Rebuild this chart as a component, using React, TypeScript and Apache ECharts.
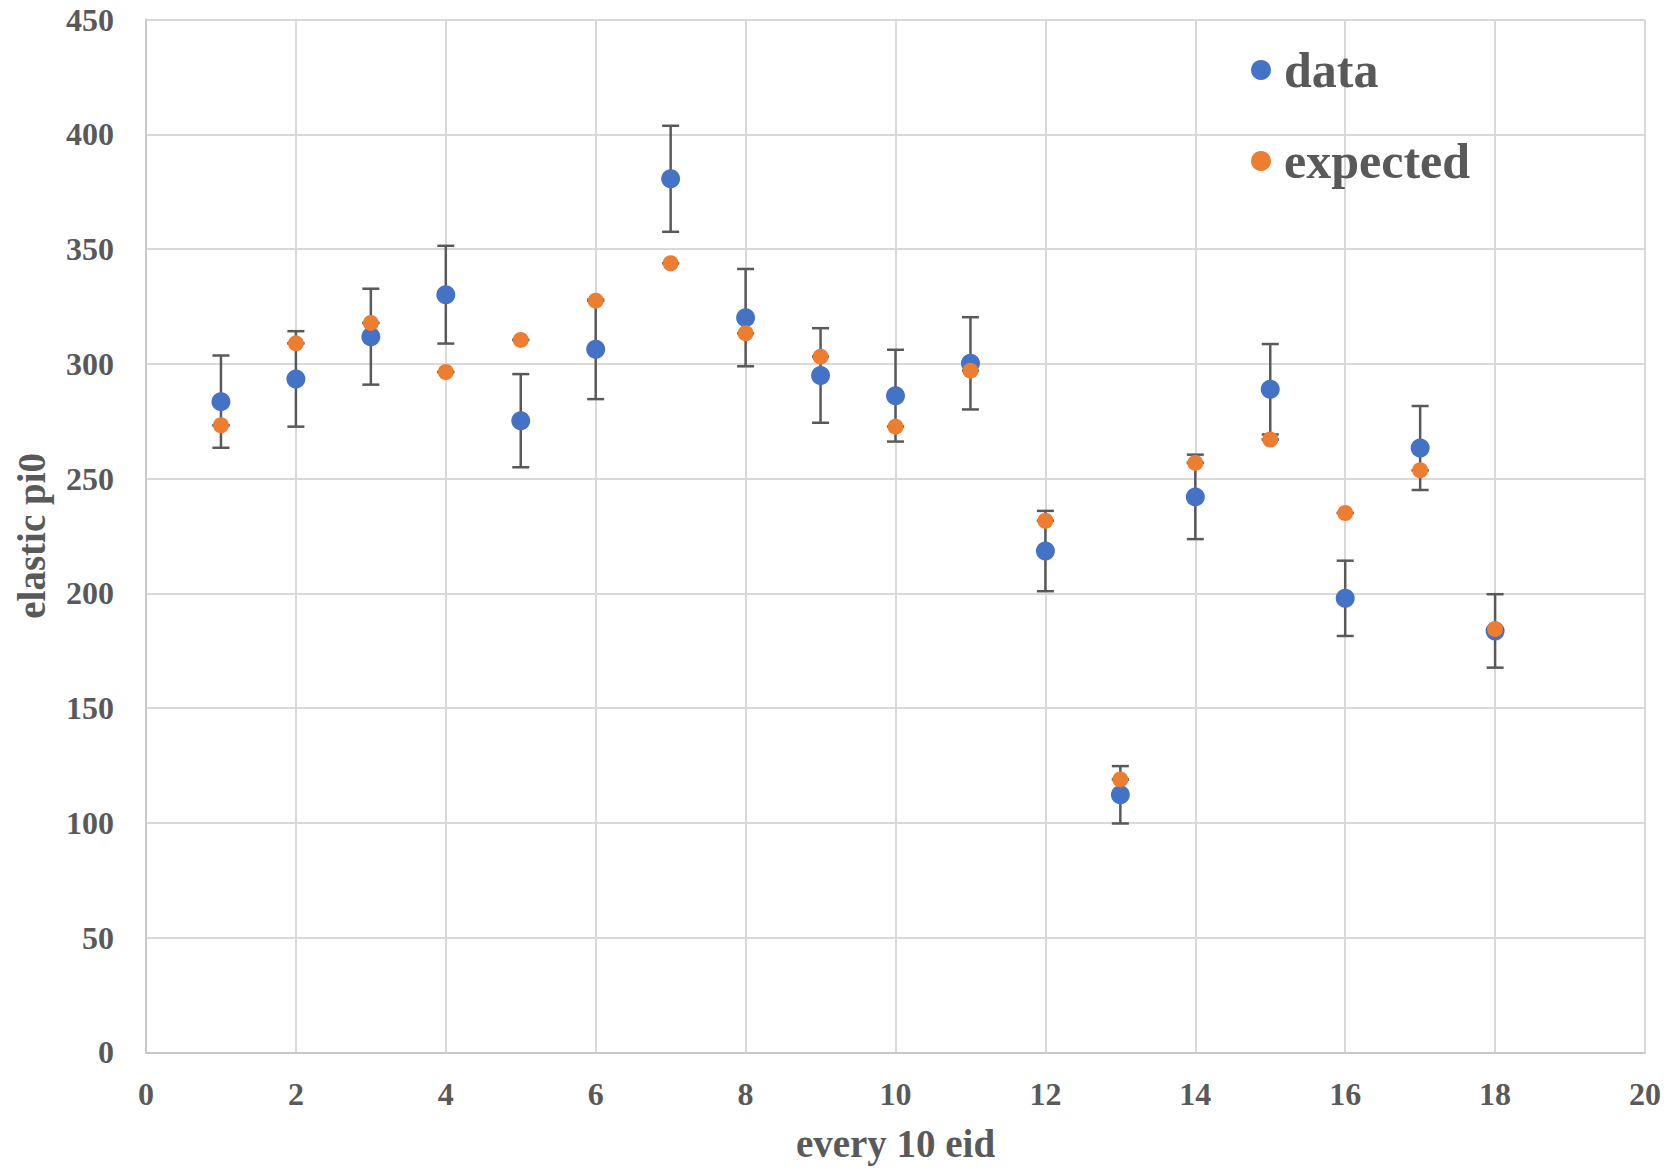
import React, { useEffect, useRef } from "react";
import * as echarts from "echarts";

const eids = [1, 2, 3, 4, 5, 6, 7, 8, 9, 10, 11, 12, 13, 14, 15, 16, 17, 18];
const dataValues = [283.5, 293.4, 311.8, 330.1, 275.2, 306.3, 380.6, 320.1, 294.9, 286.1, 300.2, 218.4, 112.2, 242.0, 288.9, 197.8, 263.3, 183.6];
const dataErrors = [20.1, 20.8, 20.9, 21.3, 20.3, 21.7, 23.1, 21.2, 20.6, 20.0, 20.1, 17.5, 12.5, 18.4, 19.7, 16.4, 18.3, 16.0];
const expectedValues = [273.2, 308.9, 317.8, 296.4, 310.4, 327.5, 343.8, 313.3, 303.1, 272.6, 297.0, 231.6, 118.9, 256.8, 267.0, 235.0, 253.6, 184.4];

const FONT = "'Liberation Serif', 'Times New Roman', serif";
const TEXT_COLOR = "#595959";
const ERR_COLOR = "#595959";

function errRender(params: any, api: any) {
  const x = api.value(0);
  const lo = api.value(1);
  const hi = api.value(2);
  const pHi = api.coord([x, hi]);
  const pLo = api.coord([x, lo]);
  const hw = 8.5;
  const style = { stroke: ERR_COLOR, lineWidth: 2.5 };
  const children: any[] = [];
  if (Math.abs(pHi[1] - pLo[1]) > 0.5) {
    children.push({ type: "line", shape: { x1: pHi[0], y1: pHi[1], x2: pLo[0], y2: pLo[1] }, style });
  }
  children.push({ type: "line", shape: { x1: pHi[0] - hw, y1: pHi[1], x2: pHi[0] + hw, y2: pHi[1] }, style });
  children.push({ type: "line", shape: { x1: pLo[0] - hw, y1: pLo[1], x2: pLo[0] + hw, y2: pLo[1] }, style });
  return { type: "group", children };
}

export default function App() {
  const ref = useRef<HTMLDivElement>(null);
  useEffect(() => {
    document.body.style.margin = "0";
    const chart = echarts.init(ref.current!, null, { renderer: "svg" });
    const dataPoints = eids.map((x, i) => [x, dataValues[i]]);
    const expPoints = eids.map((x, i) => [x, expectedValues[i]]);
    const dataErr = eids.map((x, i) => [x, dataValues[i] - dataErrors[i], dataValues[i] + dataErrors[i]]);
    const expErr = eids.map((x, i) => [x, expectedValues[i], expectedValues[i]]);
    chart.setOption({
      animation: false,
      backgroundColor: "#ffffff",
      grid: { left: 146, top: 19.5, right: 31, bottom: 117.7, containLabel: false },
      xAxis: {
        type: "value",
        min: 0,
        max: 20,
        interval: 2,
        name: "every 10 eid",
        nameLocation: "middle",
        nameGap: 72,
        nameTextStyle: { fontFamily: FONT, fontWeight: "bold", fontSize: 39, color: TEXT_COLOR },
        axisLine: { show: true, lineStyle: { color: "#c8c8c8", width: 2 } },
        axisTick: { show: false },
        axisLabel: { fontFamily: FONT, fontWeight: "bold", fontSize: 32, color: TEXT_COLOR, margin: 26 },
        splitLine: { show: true, lineStyle: { color: "#d9d9d9", width: 2 } },
      },
      yAxis: {
        type: "value",
        min: 0,
        max: 450,
        interval: 50,
        name: "elastic pi0",
        nameLocation: "middle",
        nameRotate: 90,
        nameGap: 95,
        nameTextStyle: { fontFamily: FONT, fontWeight: "bold", fontSize: 39, color: TEXT_COLOR },
        axisLine: { show: true, lineStyle: { color: "#c8c8c8", width: 2 } },
        axisTick: { show: false },
        axisLabel: { fontFamily: FONT, fontWeight: "bold", fontSize: 32, color: TEXT_COLOR, margin: 32 },
        splitLine: { show: true, lineStyle: { color: "#d9d9d9", width: 2 } },
      },
      legend: {
        orient: "vertical",
        left: 1246,
        top: 40,
        itemWidth: 20,
        itemHeight: 20,
        itemGap: 41,
        icon: "circle",
        data: ["data", "expected"],
        textStyle: { fontFamily: FONT, fontWeight: "bold", fontSize: 50, color: TEXT_COLOR, padding: [0, 0, 0, 8] },
      },
      series: [
        {
          name: "dataErr",
          type: "custom",
          renderItem: errRender,
          data: dataErr,
          encode: { x: 0, y: [1, 2] },
          z: 1,
          silent: true,
        },
        {
          name: "data",
          type: "scatter",
          data: dataPoints,
          symbol: "circle",
          symbolSize: 19,
          itemStyle: { color: "#4472c4", opacity: 1 },
          z: 2,
        },
        {
          name: "expectedErr",
          type: "custom",
          renderItem: errRender,
          data: expErr,
          encode: { x: 0, y: [1, 2] },
          z: 3,
          silent: true,
        },
        {
          name: "expected",
          type: "scatter",
          data: expPoints,
          symbol: "circle",
          symbolSize: 16,
          itemStyle: { color: "#ed7d31", opacity: 1 },
          z: 4,
        },
      ],
    });
    return () => chart.dispose();
  }, []);
  return <div ref={ref} style={{ position: "absolute", left: 0, top: 0, width: 1676, height: 1170 }} />;
}
